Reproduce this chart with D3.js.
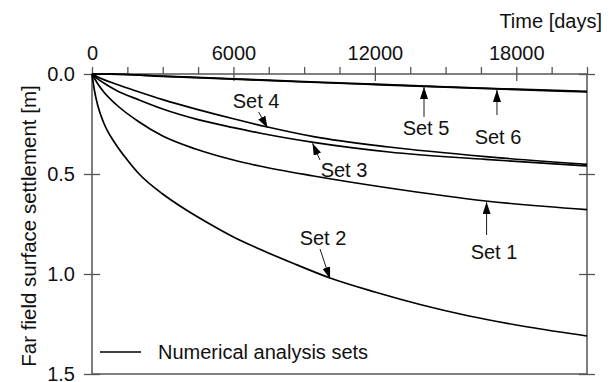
<!DOCTYPE html>
<html>
<head>
<meta charset="utf-8">
<script src="https://cdn.jsdelivr.net/npm/d3@7"></script>
<style>
  body { margin: 0; background: #fff; }
  text { font-family: Arial, "Liberation Sans", Helvetica, sans-serif; fill: #111; }
</style>
</head>
<body>
<div id="chart"></div>
<script>
// Far field surface settlement vs time, six numerical analysis sets
// each series is [days, settlement m]
const set1 = [[0,0],[250,0.05],[500,0.09],[1000,0.15],[2000,0.24],[3000,0.31],[4400,0.375],[6000,0.43],[7100,0.46],[9400,0.51],[12600,0.57],[16700,0.635],[21000,0.678]];
const set2 = [[0,0],[100,0.08],[250,0.16],[500,0.245],[1000,0.35],[1500,0.43],[2000,0.5],[3000,0.6],[4000,0.68],[5000,0.75],[6000,0.815],[7000,0.87],[8500,0.945],[10100,1.02],[12000,1.09],[14000,1.155],[16000,1.21],[18500,1.265],[21000,1.31]];
const set3 = [[0,0],[250,0.025],[500,0.045],[1000,0.08],[2000,0.13],[3000,0.175],[4500,0.228],[6000,0.268],[7100,0.295],[9400,0.342],[12600,0.39],[16700,0.427],[21000,0.46]];
const set4 = [[0,0],[250,0.015],[500,0.028],[1000,0.05],[2000,0.09],[3000,0.128],[4500,0.178],[6000,0.224],[7450,0.265],[9400,0.313],[12600,0.365],[16700,0.413],[21000,0.452]];
const set5 = [[0,0],[800,0.001],[3000,0.011],[6000,0.024],[9000,0.038],[12000,0.051],[15000,0.064],[18000,0.076],[21000,0.087]];
const set6 = [[0,0],[800,0.0],[3000,0.012],[6000,0.026],[9000,0.04],[12000,0.053],[15000,0.066],[18000,0.078],[21000,0.09]];

const seriesNames = ["Set 1", "Set 2", "Set 3", "Set 4", "Set 5", "Set 6"];
const seriesData = [set1, set2, set3, set4, set5, set6];

const xTicks = d3.range(0, 21000 + 1, 1500);
const xLabels = [0, 6000, 12000, 18000];
const yTicks = [0, 0.5, 1.0, 1.5];

// annotations: name, day the arrow points at, arrow tail (day, m), label (day, m)
const notes = [
  {name: "Set 4", tip: 7450,  tail: [7070, 0.19],  label: [6960, 0.17]},
  {name: "Set 5", tip: 14085, tail: [14085, 0.215], label: [14170, 0.305]},
  {name: "Set 6", tip: 17180, tail: [17180, 0.205], label: [17225, 0.35]},
  {name: "Set 3", tip: 9355,  tail: [9673, 0.43],  label: [10690, 0.515]},
  {name: "Set 1", tip: 16740, tail: [16740, 0.805], label: [17055, 0.925]},
  {name: "Set 2", tip: 10100, tail: [9673, 0.875], label: [9800, 0.855]}
];

const width = 614, height = 382;
const margin = {top: 74, right: 27, bottom: 8, left: 92};
const w = width - margin.left - margin.right;
const h = height - margin.top - margin.bottom;
const axisColor = "#555";

const svg = d3.select("#chart").append("svg")
    .attr("width", width)
    .attr("height", height);

svg.append("defs").append("marker")
    .attr("id", "head")
    .attr("markerUnits", "userSpaceOnUse")
    .attr("viewBox", "0 0 12 8")
    .attr("refX", 12)
    .attr("refY", 4)
    .attr("markerWidth", 12)
    .attr("markerHeight", 8)
    .attr("orient", "auto")
  .append("path")
    .attr("d", "M0,0L12,4L0,8Z")
    .attr("fill", "#000");

const g = svg.append("g")
    .attr("transform", `translate(${margin.left},${margin.top})`);

const x = d3.scaleLinear().domain([0, 21000]).range([0, w]);
const y = d3.scaleLinear().domain([0, 1.5]).range([0, h]);

// top axis, labels every 6000, major ticks cross the line
const xAxis = d3.axisTop(x)
    .tickValues(xTicks)
    .tickSizeInner(7)
    .tickSizeOuter(0)
    .tickPadding(6)
    .tickFormat(d => xLabels.includes(d) ? d : "");

const gx = g.append("g").call(xAxis);
gx.select(".domain").remove();
gx.selectAll(".tick line")
    .attr("stroke", axisColor)
    .attr("stroke-width", 1.3)
    .attr("y1", d => xLabels.includes(d) ? 7 : 0);
gx.selectAll(".tick text")
    .attr("font-size", 20)
    .attr("y", -14)
    .attr("dy", 0)
    .style("fill", "#111");

// left axis, ticks cross
const yAxis = d3.axisLeft(y)
    .tickValues(yTicks)
    .tickSizeInner(8)
    .tickSizeOuter(0)
    .tickPadding(9)
    .tickFormat(d3.format(".1f"));

const gy = g.append("g").call(yAxis);
gy.select(".domain").remove();
gy.selectAll(".tick line").attr("x2", -8).attr("x1", 8)
    .attr("stroke", axisColor).attr("stroke-width", 1.3);
gy.selectAll(".tick text").attr("font-size", 20).style("fill", "#111");

// right axis ticks only
const gr = g.append("g").attr("transform", `translate(${w},0)`)
    .call(d3.axisRight(y).tickValues(yTicks).tickSizeInner(8).tickSizeOuter(0).tickFormat(""));
gr.select(".domain").remove();
gr.selectAll(".tick line").attr("x1", -8)
    .attr("stroke", axisColor).attr("stroke-width", 1.3);

// frame
g.append("rect")
    .attr("x", 0).attr("y", 0)
    .attr("width", w).attr("height", h)
    .attr("fill", "none")
    .attr("stroke", axisColor)
    .attr("stroke-width", 1.5);

// curves
const line = d3.line()
    .x(d => x(d[0]))
    .y(d => y(d[1]))
    .curve(d3.curveMonotoneX);

g.selectAll(".set")
    .data(seriesData)
    .join("path")
    .attr("class", "set")
    .attr("fill", "none")
    .attr("stroke", "#000")
    .attr("stroke-width", 1.7)
    .attr("d", line);

// value on a series at a given day (straight interpolation between points)
function valueAt(data, day) {
    const i = d3.bisector(d => d[0]).left(data, day);
    if (i <= 0) return data[0][1];
    const a = data[i - 1], b = data[i];
    return a[1] + (b[1] - a[1]) * (day - a[0]) / (b[0] - a[0]);
}

notes.forEach(n => {
    const data = seriesData[seriesNames.indexOf(n.name)];
    g.append("line")
        .attr("x1", x(n.tail[0])).attr("y1", y(n.tail[1]))
        .attr("x2", x(n.tip)).attr("y2", y(valueAt(data, n.tip)) + 1)
        .attr("stroke", "#000")
        .attr("stroke-width", 0.9)
        .attr("marker-end", "url(#head)");
    g.append("text")
        .attr("x", x(n.label[0])).attr("y", y(n.label[1]))
        .attr("text-anchor", "middle")
        .attr("font-size", 20)
        .text(n.name);
});

// axis titles
svg.append("text")
    .attr("x", 602).attr("y", 28)
    .attr("text-anchor", "end")
    .attr("font-size", 20)
    .text("Time [days]");

svg.append("text")
    .attr("transform", `translate(36,${margin.top + h / 2 + 2}) rotate(-90)`)
    .attr("text-anchor", "middle")
    .attr("font-size", 20.5)
    .text("Far field surface settlement [m]");

// legend
g.append("line")
    .attr("x1", 8).attr("x2", 49)
    .attr("y1", y(1.39)).attr("y2", y(1.39))
    .attr("stroke", "#000").attr("stroke-width", 1.7);
g.append("text")
    .attr("x", 66).attr("y", y(1.39) + 7)
    .attr("font-size", 20)
    .text("Numerical analysis sets");
</script>
</body>
</html>
